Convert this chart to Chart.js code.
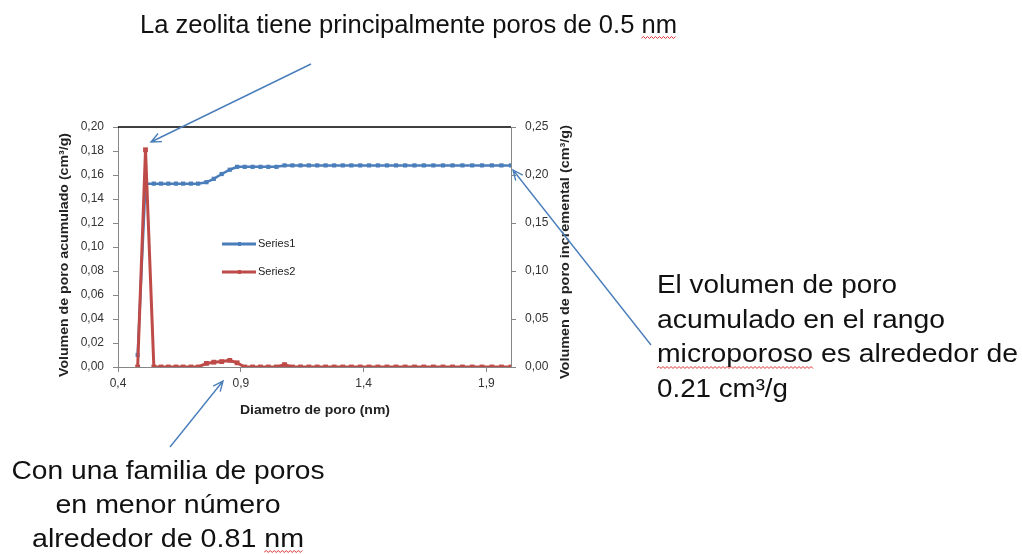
<!DOCTYPE html>
<html>
<head>
<meta charset="utf-8">
<script src="https://cdn.jsdelivr.net/npm/chart.js@4"></script>
<style>
  html, body { margin: 0; padding: 0; background: #fff; }
  #wrap { width: 1022px; height: 554px; }
</style>
</head>
<body>
<div id="wrap"><canvas id="graph" width="1022" height="554"></canvas></div>
<script>
// Pore diameter (nm)
const diameters = [0.480, 0.512, 0.546, 0.575, 0.605, 0.636, 0.665, 0.697, 0.726, 0.760,
    0.790, 0.822, 0.855, 0.885, 0.916, 0.948, 0.980, 1.012, 1.045, 1.078,
    1.110, 1.143, 1.177, 1.211, 1.245, 1.280, 1.315, 1.350, 1.386, 1.422,
    1.458, 1.495, 1.532, 1.569, 1.607, 1.645, 1.684, 1.723, 1.762, 1.802,
    1.842, 1.882, 1.922, 1.961, 2.000];

// Series1 -> right axis (cm3/g)
const series1 = [0.0125, 0.191, 0.191, 0.191, 0.191, 0.191, 0.191, 0.191, 0.191, 0.1925,
    0.196, 0.201, 0.2055, 0.2085, 0.2085, 0.2085, 0.2085, 0.2085, 0.2085, 0.210,
    0.210, 0.210, 0.210, 0.210, 0.210, 0.210, 0.210, 0.210, 0.210, 0.210,
    0.210, 0.210, 0.210, 0.210, 0.210, 0.210, 0.210, 0.210, 0.210, 0.210,
    0.210, 0.210, 0.210, 0.210, 0.210];

// Series2 -> left axis (cm3/g)
const series2 = [0, 0.181, 0, 0, 0, 0, 0, 0, 0, 0.003,
    0.004, 0.0045, 0.0055, 0.0035, 0, 0, 0, 0, 0, 0.002,
    0, 0, 0, 0, 0, 0, 0, 0, 0, 0,
    0, 0, 0, 0, 0, 0, 0, 0, 0, 0,
    0, 0, 0, 0, 0];

const xTicks = [0.4, 0.9, 1.4, 1.9];
const seriesNames = ['Series1', 'Series2'];

const blue = '#4a7ebb';
const red = '#be4b48';
const axisGray = '#868686';
const sans = '"Liberation Sans", Arial, sans-serif';

const fmt = (v, d) => Number(v).toFixed(d).replace('.', ',');

// text squeezed/stretched to a given width
function fitText(ctx, text, x, y, width, align) {
    const sx = width / ctx.measureText(text).width;
    const left = align === 'center' ? x - width / 2 : x;
    ctx.save();
    ctx.translate(left, y);
    ctx.scale(sx, 1);
    ctx.textAlign = 'left';
    ctx.fillText(text, 0, 0);
    ctx.restore();
    return { left, sx };
}

function wavy(ctx, x0, x1, y) {
    ctx.save();
    ctx.strokeStyle = '#e03030';
    ctx.lineWidth = 1;
    ctx.beginPath();
    let up = true;
    ctx.moveTo(x0, y);
    for (let x = x0 + 2; x <= x1; x += 2) {
        ctx.lineTo(x, up ? y - 1.5 : y + 0.5);
        up = !up;
    }
    ctx.stroke();
    ctx.restore();
}

function underlineWord(ctx, text, word, placed, y) {
    const i = text.lastIndexOf(word);
    const a = placed.left + ctx.measureText(text.slice(0, i)).width * placed.sx;
    const b = a + ctx.measureText(word).width * placed.sx;
    wavy(ctx, a, b, y);
}

function arrow(ctx, x1, y1, x2, y2) {
    const ang = Math.atan2(y2 - y1, x2 - x1);
    const len = 11, spread = 0.42;
    ctx.save();
    ctx.strokeStyle = blue;
    ctx.lineWidth = 1.4;
    ctx.beginPath();
    ctx.moveTo(x1, y1);
    ctx.lineTo(x2, y2);
    ctx.moveTo(x2 - len * Math.cos(ang - spread), y2 - len * Math.sin(ang - spread));
    ctx.lineTo(x2, y2);
    ctx.lineTo(x2 - len * Math.cos(ang + spread), y2 - len * Math.sin(ang + spread));
    ctx.stroke();
    ctx.restore();
}

// frame top, axis titles, inner legend, callouts
const extras = {
    id: 'extras',
    afterDraw(chart) {
        const ctx = chart.ctx;
        const area = chart.chartArea;

        ctx.save();
        ctx.strokeStyle = '#000';
        ctx.lineWidth = 1.5;
        ctx.beginPath();
        ctx.moveTo(area.left, area.top);
        ctx.lineTo(area.right, area.top);
        ctx.stroke();

        // axis titles
        ctx.fillStyle = '#222';
        ctx.font = 'bold 12px ' + sans;
        ctx.textBaseline = 'middle';
        ctx.save();
        ctx.translate(65, 255);
        ctx.rotate(-Math.PI / 2);
        fitText(ctx, 'Volumen de poro acumulado (cm³/g)', 0, 0, 244, 'center');
        ctx.restore();
        ctx.save();
        ctx.translate(566, 252);
        ctx.rotate(-Math.PI / 2);
        fitText(ctx, 'Volumen de poro incremental (cm³/g)', 0, 0, 254, 'center');
        ctx.restore();
        fitText(ctx, 'Diametro de poro (nm)', 315, 411, 150, 'center');

        // legend inside plot
        const colors = [blue, red];
        const rows = [244, 272];
        ctx.font = '11px ' + sans;
        seriesNames.forEach((name, i) => {
            const y = rows[i];
            ctx.strokeStyle = colors[i];
            ctx.lineWidth = 3;
            ctx.beginPath();
            ctx.moveTo(222, y);
            ctx.lineTo(256, y);
            ctx.stroke();
            ctx.fillStyle = colors[i];
            ctx.fillRect(238, y - 2, 3, 4);
            ctx.fillStyle = '#222';
            ctx.textAlign = 'left';
            ctx.fillText(name, 258, y);
        });

        // callouts
        ctx.fillStyle = '#111';
        ctx.textBaseline = 'alphabetic';
        ctx.font = '26px ' + sans;

        const top = 'La zeolita tiene principalmente poros de 0.5 nm';
        const pTop = fitText(ctx, top, 140, 33, 537, 'left');
        underlineWord(ctx, top, 'nm', pTop, 38);

        const right = ['El volumen de poro', 'acumulado en el rango', 'microporoso es alrededor de', '0.21 cm³/g'];
        const rightW = [240, 288, 361, 131];
        const rightY = [293, 328, 362, 397];
        right.forEach((t, i) => {
            const p = fitText(ctx, t, 657, rightY[i], rightW[i], 'left');
            if (i === 2) underlineWord(ctx, t, 'microporoso', p, rightY[i] + 6);
        });

        const bottom = ['Con una familia de poros', 'en menor número', 'alrededor de 0.81 nm'];
        const bottomW = [313, 225, 272];
        const bottomY = [479, 513, 547];
        bottom.forEach((t, i) => {
            const p = fitText(ctx, t, 168, bottomY[i], bottomW[i], 'center');
            if (i === 2) underlineWord(ctx, t, 'nm', p, bottomY[i] + 5);
        });

        arrow(ctx, 311, 64, 151, 142);
        arrow(ctx, 651, 345, 513, 170);
        arrow(ctx, 170, 447, 223, 381);
        ctx.restore();
    }
};

const ctx = document.getElementById('graph').getContext('2d');

const chart = new Chart(ctx, {
    type: 'line',
    data: {
        datasets: [
            {
                label: seriesNames[1],
                data: diameters.map((x, i) => ({ x: x, y: series2[i] })),
                yAxisID: 'y',
                borderColor: red,
                backgroundColor: red,
                borderWidth: 3,
                pointStyle: 'rect',
                pointRadius: 1.3,
                tension: 0,
                fill: false,
            },
            {
                label: seriesNames[0],
                data: diameters.map((x, i) => ({ x: x, y: series1[i] })),
                yAxisID: 'y1',
                borderColor: blue,
                backgroundColor: blue,
                borderWidth: 2.5,
                pointStyle: 'rect',
                pointRadius: 1.2,
                tension: 0,
                fill: false,
            },
        ],
    },
    options: {
        responsive: false,
        animation: false,
        devicePixelRatio: 1,
        layout: { padding: { top: 127, left: 0, right: 0, bottom: 0 } },
        plugins: {
            legend: { display: false },
            tooltip: { enabled: false },
        },
        scales: {
            x: {
                type: 'linear',
                min: 0.4,
                max: 2.0,
                afterBuildTicks: (axis) => { axis.ticks = xTicks.map(v => ({ value: v })); },
                afterFit: (axis) => { axis.height = 187; },
                ticks: {
                    callback: (v) => fmt(v, 1),
                    font: { family: sans, size: 12 },
                    color: '#333',
                    padding: 4,
                    maxRotation: 0,
                },
                grid: { drawOnChartArea: false, tickLength: 5, color: axisGray },
                border: { color: axisGray },
            },
            y: {
                position: 'left',
                min: 0,
                max: 0.2,
                afterFit: (axis) => { axis.width = 118; },
                ticks: {
                    stepSize: 0.02,
                    callback: (v) => fmt(v, 2),
                    font: { family: sans, size: 12 },
                    color: '#333',
                    padding: 9,
                },
                grid: { drawOnChartArea: false, tickLength: 5, color: axisGray },
                border: { color: axisGray },
            },
            y1: {
                position: 'right',
                min: 0,
                max: 0.25,
                afterFit: (axis) => { axis.width = 511; },
                ticks: {
                    stepSize: 0.05,
                    callback: (v) => fmt(v, 2),
                    font: { family: sans, size: 12 },
                    color: '#333',
                    padding: 9,
                },
                grid: { drawOnChartArea: false, tickLength: 5, color: axisGray },
                border: { color: axisGray },
            },
        },
    },
    plugins: [extras],
});
</script>
</body>
</html>
